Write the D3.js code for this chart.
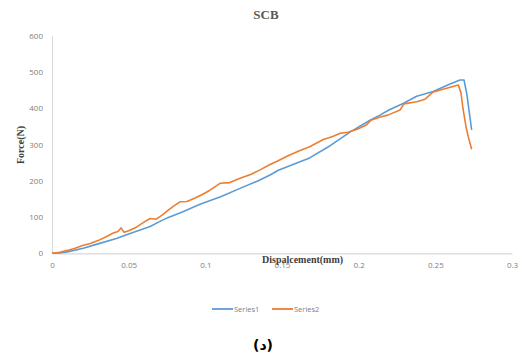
<!DOCTYPE html>
<html>
<head>
<meta charset="utf-8">
<script src="https://cdn.jsdelivr.net/npm/d3@7"></script>
<style>
  body { margin: 0; background: #fff; }
  svg { display: block; }
</style>
</head>
<body>
<div class="chart"></div>
<script>
// data: [displacement (mm), force (N)]
const series1 = [
  [0, 0], [0.005, 1], [0.01, 4], [0.0204, 14], [0.03, 26], [0.042, 41], [0.05, 53],
  [0.064, 74], [0.0704, 88], [0.0759, 99], [0.085, 114], [0.0965, 135], [0.11, 156],
  [0.1226, 179], [0.1345, 200], [0.1422, 216], [0.1476, 229], [0.158, 246], [0.168, 263],
  [0.18, 293], [0.1943, 334], [0.2074, 367], [0.2139, 381], [0.22, 396], [0.229, 413],
  [0.2378, 433], [0.2486, 446], [0.2596, 467], [0.2661, 478], [0.2687, 478],
  [0.2705, 440], [0.2737, 340]
];
const series2 = [
  [0, 0], [0.005, 3], [0.01, 8], [0.015, 14], [0.0204, 22], [0.025, 27], [0.03, 35],
  [0.035, 45], [0.04, 56], [0.043, 60], [0.045, 70], [0.047, 58], [0.05, 62], [0.055, 72],
  [0.06, 86], [0.064, 96], [0.068, 94], [0.072, 106], [0.076, 120], [0.08, 132],
  [0.0835, 142], [0.088, 143], [0.093, 152], [0.098, 162], [0.103, 174], [0.1096, 193],
  [0.116, 195], [0.1226, 207], [0.13, 218], [0.1357, 230], [0.1422, 245], [0.1465, 253],
  [0.155, 271], [0.161, 282], [0.168, 294], [0.177, 314], [0.183, 322], [0.188, 331],
  [0.193, 334], [0.199, 342], [0.205, 354], [0.208, 367], [0.214, 376], [0.219, 381],
  [0.227, 395], [0.2295, 412], [0.2378, 418], [0.2433, 425], [0.2486, 445], [0.2574, 455],
  [0.265, 464], [0.2668, 441], [0.268, 400], [0.27, 349], [0.2715, 321], [0.2737, 287]
];
const seriesNames = ['Series1', 'Series2'];
const xTicks = [0, 0.05, 0.1, 0.15, 0.2, 0.25, 0.3];
const yTicks = [0, 100, 200, 300, 400, 500, 600];

const width = 522, height = 358;
const colors = ['#5b9bd5', '#ed7d31'];

const svg = d3.select('.chart')
  .append('svg')
  .attr('width', width)
  .attr('height', height);

// scales
const x = d3.scaleLinear().domain([0, 0.3]).range([52, 512]);
const y = d3.scaleLinear().domain([0, 600]).range([253.3, 35.7]);

// title
svg.append('text')
  .attr('x', 266).attr('y', 19)
  .attr('text-anchor', 'middle')
  .style('font', 'bold 13px "Liberation Serif", serif')
  .style('fill', '#595959')
  .text('SCB');

// y axis
const yaxis = svg.append('g')
  .attr('transform', 'translate(' + x(0) + ',0)')
  .call(d3.axisLeft(y).tickValues(yTicks).tickSize(0).tickPadding(9).tickFormat(d3.format('d')));
yaxis.select('.domain').attr('stroke', '#d9d9d9');
yaxis.selectAll('text')
  .style('font', '8px "Open Sans", sans-serif')
  .style('fill', '#808080');

// x axis
const xaxis = svg.append('g')
  .attr('transform', 'translate(0,' + y(0) + ')')
  .call(d3.axisBottom(x).tickValues(xTicks).tickSize(0).tickPadding(9).tickFormat(d => d === 0 ? '0' : String(d)));
xaxis.select('.domain').attr('stroke', '#d9d9d9').attr('stroke-width', 1.3);
xaxis.selectAll('text')
  .style('font', '8px "Open Sans", sans-serif')
  .style('fill', '#808080');

// axis titles
svg.append('text')
  .attr('transform', 'translate(24,145) rotate(-90)')
  .attr('text-anchor', 'middle')
  .style('font', 'bold 10px "Liberation Serif", serif')
  .style('fill', '#404040')
  .text('Force(N)');

svg.append('text')
  .attr('x', 262).attr('y', 263)
  .style('font', 'bold 10px "Liberation Serif", serif')
  .style('fill', '#404040')
  .text('Dispalcement(mm)');

// lines
const line = d3.line()
  .x(d => x(d[0]))
  .y(d => y(d[1]));

[series1, series2].forEach((s, i) => {
  svg.append('path')
    .datum(s)
    .attr('fill', 'none')
    .attr('stroke', colors[i])
    .attr('stroke-width', 1.6)
    .attr('stroke-linejoin', 'round')
    .attr('d', line);
});

// legend
const legendX = [212, 272];
seriesNames.forEach((name, i) => {
  const g = svg.append('g').attr('transform', 'translate(' + legendX[i] + ',309)');
  g.append('line')
    .attr('x1', 0).attr('x2', 21)
    .attr('stroke', colors[i]).attr('stroke-width', 1.8);
  g.append('text')
    .attr('x', 22).attr('y', 2.8)
    .style('font', '7.5px "Open Sans", sans-serif')
    .style('fill', '#808080')
    .text(name);
});

// caption
svg.append('text')
  .attr('x', 263).attr('y', 350)
  .attr('text-anchor', 'middle')
  .style('font', 'bold 14px "DejaVu Sans", sans-serif')
  .style('fill', '#000')
  .text('(د)');
</script>
</body>
</html>
